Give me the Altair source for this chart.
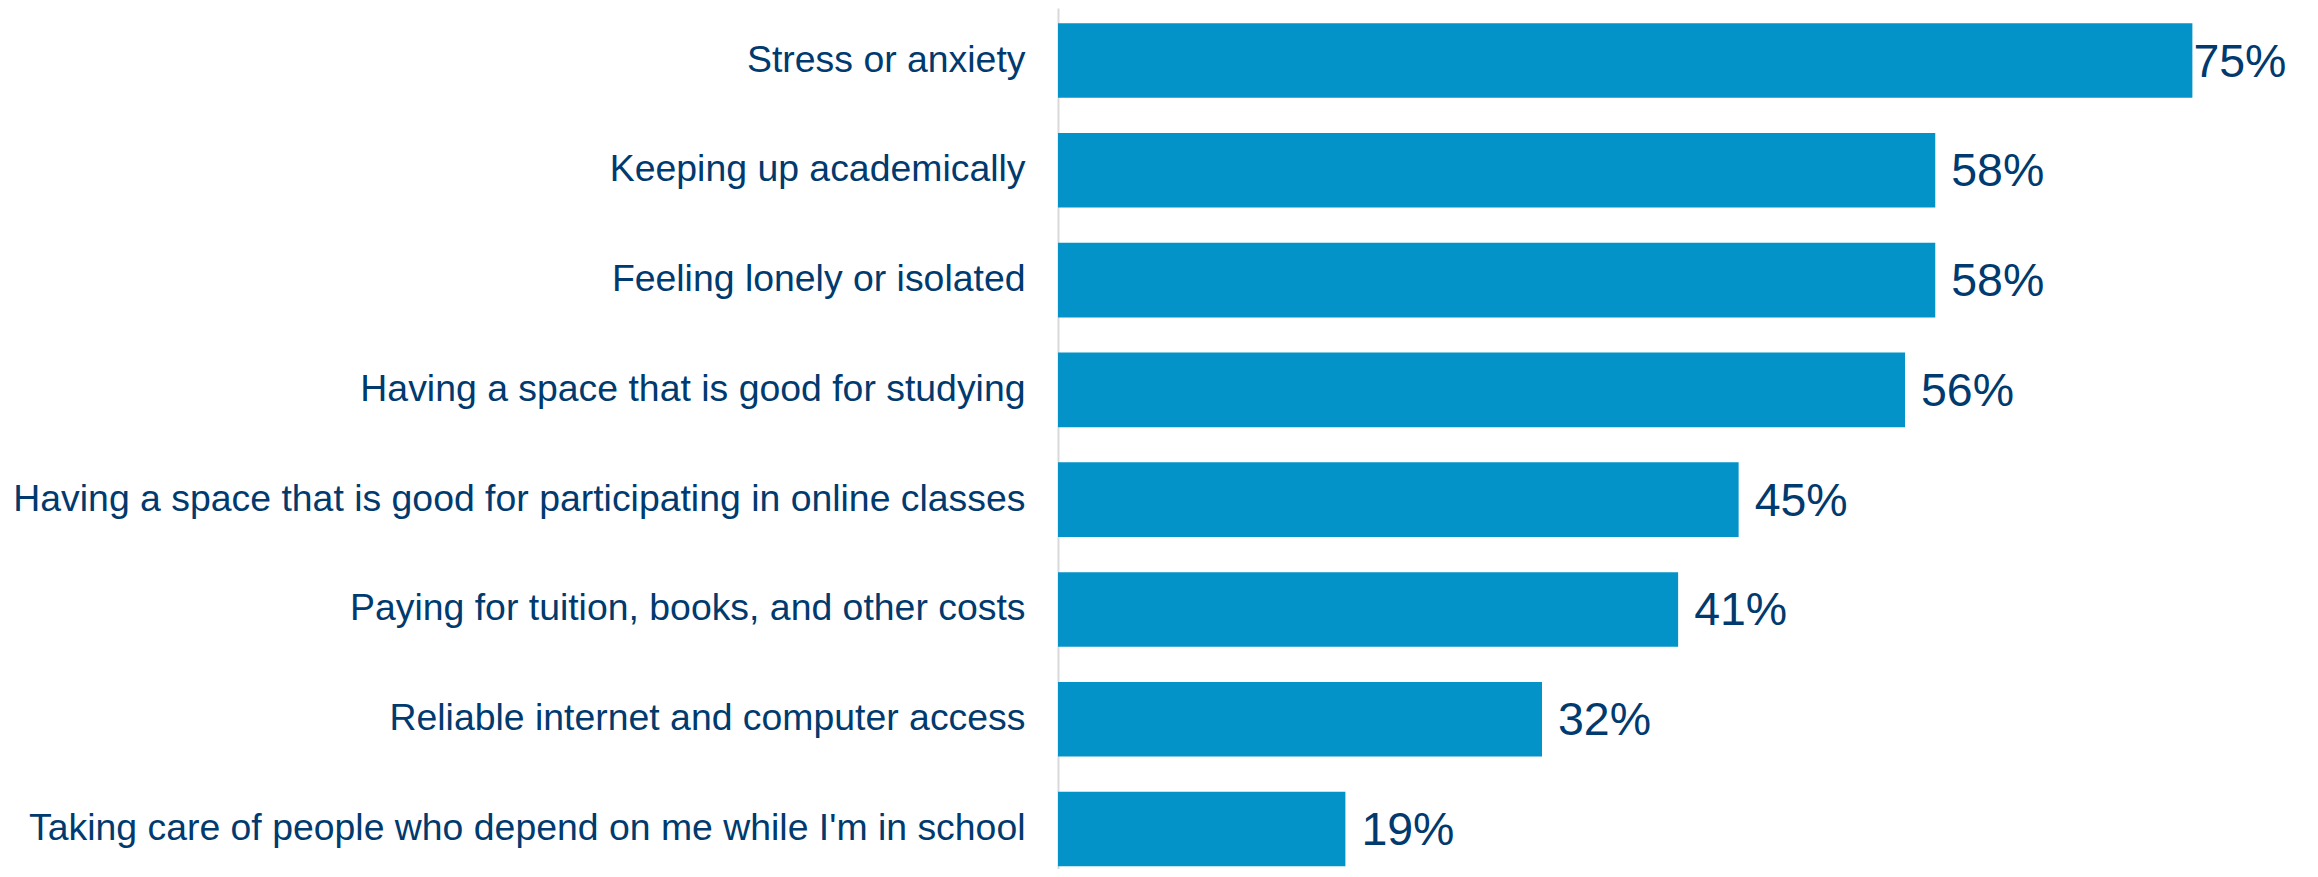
import altair as alt
import pandas as pd

categories = [
    "Stress or anxiety",
    "Keeping up academically",
    "Feeling lonely or isolated",
    "Having a space that is good for studying",
    "Having a space that is good for participating in online classes",
    "Paying for tuition, books, and other costs",
    "Reliable internet and computer access",
    "Taking care of people who depend on me while I'm in school",
]
values = [75, 58, 58, 56, 45, 41, 32, 19]
labels = ["75%", "58%", "58%", "56%", "45%", "41%", "32%", "19%"]

df = pd.DataFrame({"category": categories, "value": values, "label": labels})

BAR = "#0393C8"
TEXT = "#003A6E"
FONT = "Liberation Sans"

y_enc = alt.Y(
    "category:N",
    sort=categories,
    title=None,
    scale=alt.Scale(paddingInner=0.321, paddingOuter=0.0826, align=0.845),
    axis=alt.Axis(
        labelFontSize=37.4,
        labelColor=TEXT,
        labelFont=FONT,
        labelPadding=33,
        labelLimit=1100,
        ticks=False,
        tickSize=0,
        domainColor="#D9D9D9",
        domainWidth=2,
        grid=False,
    ),
)
x_enc = alt.X("value:Q", scale=alt.Scale(domain=[0, 80], nice=False), axis=None)

base = alt.Chart(df)

bars = base.mark_bar(color=BAR).encode(x=x_enc, y=y_enc)

text_main = base.transform_filter(alt.datum.value < 70).mark_text(
    align="left", baseline="middle", dx=16, dy=2, fontSize=46.5, font=FONT, color=TEXT
).encode(x=x_enc, y=y_enc, text="label:N")

text_top = base.transform_filter(alt.datum.value >= 70).mark_text(
    align="left", baseline="middle", dx=1, dy=2, fontSize=46.5, font=FONT, color=TEXT
).encode(x=x_enc, y=y_enc, text="label:N")

chart = (
    alt.layer(bars, text_main, text_top)
    .properties(
        width=1210,
        height=861,
        autosize=alt.AutoSizeParams(type="none"),
        padding={"left": 1050, "top": 0, "right": 34, "bottom": 0},
        background="white",
    )
    .configure_view(stroke=None)
)

chart.save("out.html", embed_options={"renderer": "svg", "actions": False})
